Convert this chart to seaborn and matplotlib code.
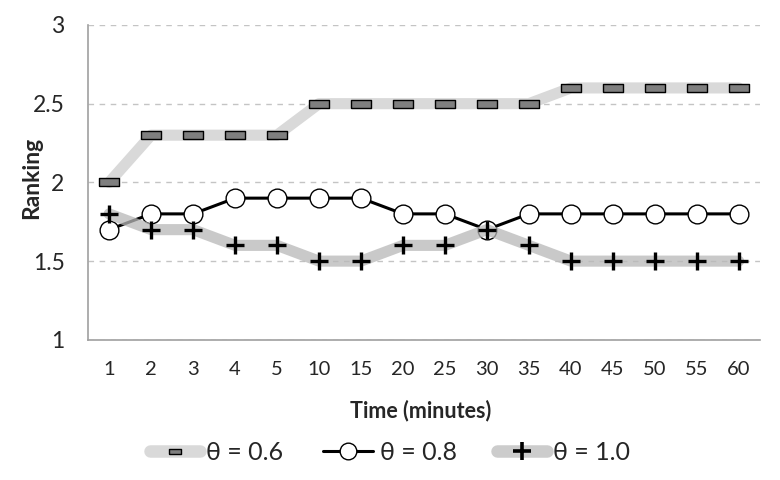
import numpy as np
import pandas as pd
import matplotlib
matplotlib.use("Agg")
import matplotlib.pyplot as plt
import seaborn as sns
from matplotlib.lines import Line2D

# time points (categorical axis)
times = ["1", "2", "3", "4", "5", "10", "15", "20", "25", "30", "35", "40", "45", "50", "55", "60"]
theta_06 = [2.0, 2.3, 2.3, 2.3, 2.3, 2.5, 2.5, 2.5, 2.5, 2.5, 2.5, 2.6, 2.6, 2.6, 2.6, 2.6]
theta_08 = [1.7, 1.8, 1.8, 1.9, 1.9, 1.9, 1.9, 1.8, 1.8, 1.7, 1.8, 1.8, 1.8, 1.8, 1.8, 1.8]
theta_10 = [1.8, 1.7, 1.7, 1.6, 1.6, 1.5, 1.5, 1.6, 1.6, 1.7, 1.6, 1.5, 1.5, 1.5, 1.5, 1.5]
labels = ["θ = 0.6", "θ = 0.8", "θ = 1.0"]

sns.set_style("white")
plt.rcParams['font.family'] = ['Lato', 'DejaVu Sans']

pos = np.arange(len(times))
df = pd.DataFrame({"pos": pos, "t06": theta_06, "t08": theta_08, "t10": theta_10})

fig = plt.figure(figsize=(7.8, 4.8), dpi=100)
ax = fig.add_axes([0.113, 0.292, 0.861, 0.656])

# wide flat rectangle marker
rect = [(-1, -0.4), (1, -0.4), (1, 0.4), (-1, 0.4), (-1, -0.4)]
band = dict(solid_capstyle="round", solid_joinstyle="round")

sns.lineplot(data=df, x="pos", y="t06", ax=ax, color="#d9d9d9", linewidth=8,
             marker=rect, markersize=14, markerfacecolor="#7f7f7f",
             markeredgecolor="black", markeredgewidth=1.0, zorder=3, **band)
sns.lineplot(data=df, x="pos", y="t08", ax=ax, color="black", linewidth=2.2,
             marker="o", markersize=13.5, markerfacecolor="white",
             markeredgecolor="black", markeredgewidth=1.0, zorder=4)
sns.lineplot(data=df, x="pos", y="t10", ax=ax, color="#b8b8b8", linewidth=8,
             alpha=0.75, zorder=5, **band)
sns.lineplot(data=df, x="pos", y="t10", ax=ax, color="none", linewidth=0,
             marker="+", markersize=13, markeredgecolor="black",
             markeredgewidth=2.4, zorder=6)

ax.set_xlim(-0.5, len(times) - 0.5)
ax.set_ylim(1, 3)
ax.set_yticks([1, 1.5, 2, 2.5, 3])
ax.set_yticklabels(["1", "1.5", "2", "2.5", "3"], fontsize=16.5)
ax.set_xticks(pos)
ax.set_xticklabels(times, fontsize=14.5)
ax.tick_params(axis="x", length=0, pad=15)
ax.tick_params(axis="y", length=7, color="#a0a0a0", width=1, pad=10)
ax.yaxis.grid(True, linestyle=(0, (4, 4)), color="#c4c4c4", linewidth=1)
ax.set_axisbelow(True)
for s in ["top", "right"]:
    ax.spines[s].set_visible(False)
for s in ["left", "bottom"]:
    ax.spines[s].set_color("#a0a0a0")
    ax.spines[s].set_linewidth(1.2)

ax.set_xlabel("Time (minutes)", fontsize=15.5, fontweight="bold")
ax.set_ylabel("Ranking", fontsize=16.5, fontweight="bold")
ax.xaxis.set_label_coords(0.495, -0.19)
ax.yaxis.set_label_coords(-0.069, 0.514)

h06 = Line2D([], [], color="#d9d9d9", linewidth=9, marker=rect, markersize=9,
             markerfacecolor="#7f7f7f", markeredgecolor="black", markeredgewidth=1.0,
             solid_capstyle="round")
h08 = Line2D([], [], color="black", linewidth=2.2, marker="o", markersize=12,
             markerfacecolor="white", markeredgecolor="black", markeredgewidth=1.0)
h10 = Line2D([], [], color="#cccccc", linewidth=9, marker="+", markersize=13,
             markeredgecolor="black", markeredgewidth=2.6, solid_capstyle="round")
fig.legend([h06, h08, h10], labels, loc="center", bbox_to_anchor=(0.5, 0.058),
           ncol=3, frameon=False, fontsize=18, handlelength=2.0,
           handletextpad=0.25, columnspacing=1.6)

fig.savefig("out.png", dpi=100)
